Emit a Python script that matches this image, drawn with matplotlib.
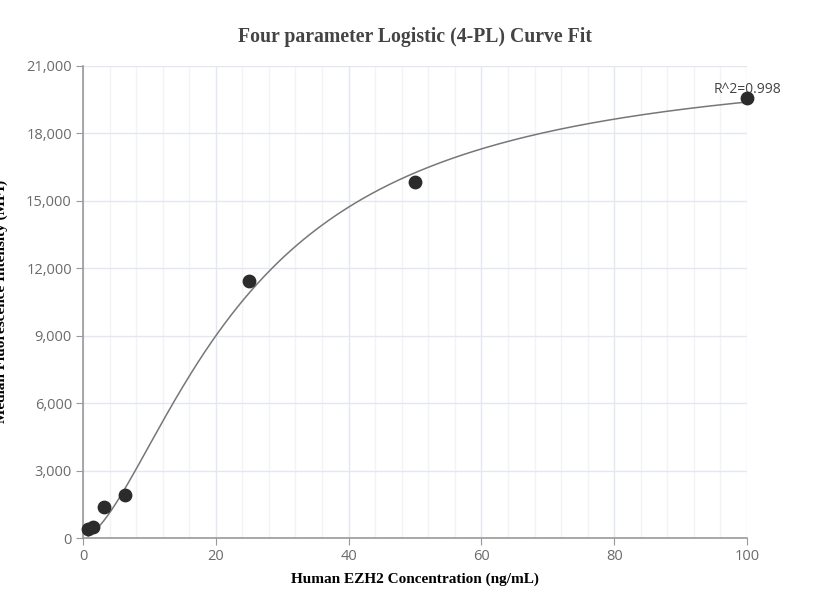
import numpy as np
import matplotlib
matplotlib.use("Agg")
import matplotlib.pyplot as plt
from matplotlib.ticker import MultipleLocator, FuncFormatter

# measured standards
conc = [0.78, 1.56, 3.125, 6.25, 25, 50, 100]
mfi = [400, 490, 1380, 1910, 11430, 15840, 19580]

# 4-PL parameters (estimated from the drawn curve)
bottom = 0
top = 21440
ec50 = 24.5
slope = 1.6
r2_text = "R^2=0.998"

xfit = np.linspace(conc[0], 100, 300)
yfit = top + (bottom - top) / (1 + (xfit / ec50) ** slope)

fig = plt.figure(figsize=(8.3, 6.16), dpi=100)
ax = fig.add_axes([0.1, 0.1266, 0.8, 0.7663])

ax.plot(xfit, yfit, color="#777777", lw=1.1, zorder=3)
ax.scatter(conc, mfi, s=80, color="#2b2b2b", zorder=4, clip_on=False)
ax.text(100, 19580 + 20, r2_text, ha="center", va="bottom", fontsize=10,
        color="#444444", family="Open Sans")

ax.set_xlim(0, 100)
ax.set_ylim(0, 21000)
ax.xaxis.set_major_locator(MultipleLocator(20))
ax.xaxis.set_minor_locator(MultipleLocator(4))
ax.yaxis.set_major_locator(MultipleLocator(3000))
ax.yaxis.set_major_formatter(FuncFormatter(lambda v, p: f"{int(v):,}"))

ax.grid(which="major", color="#e3e8f0", lw=1)
ax.grid(which="minor", axis="x", color="#f1f3f7", lw=1)
ax.set_axisbelow(True)

for s in ["top", "right"]:
    ax.spines[s].set_visible(False)
for s in ["left", "bottom"]:
    ax.spines[s].set_color("#999999")
    ax.spines[s].set_linewidth(1.2)

ax.tick_params(which="major", length=5, color="#999999", labelcolor="#6b6b6b",
               labelsize=10.5, pad=3)
ax.tick_params(which="minor", length=0)
for lab in ax.get_xticklabels() + ax.get_yticklabels():
    lab.set_family("Open Sans")

fig.text(0.5, 0.94, "Four parameter Logistic (4-PL) Curve Fit", ha="center",
         va="center", fontsize=14.2, fontweight="bold", color="#444444",
         family="Liberation Serif")
fig.text(0.5, 0.06, "Human EZH2 Concentration (ng/mL)", ha="center",
         va="center", fontsize=11, fontweight="bold", color="black",
         family="Liberation Serif")
fig.text(0.001, 0.51, "Median Fluorescence Intensity (MFI)", rotation=90,
         ha="center", va="center", fontsize=11, fontweight="bold",
         color="black", family="Liberation Serif")

fig.savefig("out.png", dpi=100)
